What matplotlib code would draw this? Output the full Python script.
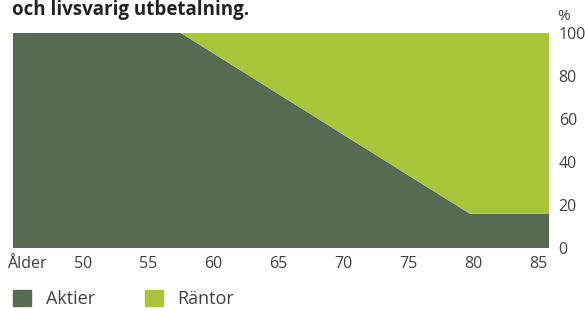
import matplotlib.pyplot as plt
from matplotlib.patches import Patch

plt.rcParams['font.family'] = ['Open Sans', 'DejaVu Sans']

# age and share of equities (rest is interest funds)
alder = [44.6, 57.5, 79.7, 85.8]
aktier = [100, 100, 16, 16]
rantor = [100 - a for a in aktier]
xticks = [50, 55, 60, 65, 70, 75, 80, 85]
yticks = [0, 20, 40, 60, 80, 100]

c_akt = '#566B52'
c_ran = '#A9C53A'
txt = '#404040'

fig = plt.figure(figsize=(5.85, 3.11), dpi=100)
ax = fig.add_axes([13/585, 63/311, 536/585, 215/311])

ax.stackplot(alder, aktier, rantor, colors=[c_akt, c_ran], linewidth=0)
ax.set_xlim(44.6, 85.8)
ax.set_ylim(0, 100)
for s in ax.spines.values():
    s.set_visible(False)

ax.set_xticks(xticks)
ax.set_xticklabels([str(t) for t in xticks])
ax.yaxis.tick_right()
ax.set_yticks(yticks)
ax.tick_params(length=0, labelsize=11.5, colors=txt)
ax.tick_params(axis='x', pad=6)
ax.tick_params(axis='y', pad=7)

fig.text(7/585, 1 - 264/311, 'Ålder', fontsize=11.5, color=txt, va='center', ha='left')
fig.text(557/585, 1 - 17/311, '%', fontsize=11, color=txt, va='center', ha='left')
fig.text(12/585, 1 - 14.5/311, 'och livsvarig utbetalning.', fontsize=13.5, fontweight='bold',
         color='#222222', va='baseline', ha='left')

handles = [Patch(color=c_akt, label='Aktier'), Patch(color=c_ran, label='Räntor')]
leg = fig.legend(handles=handles, loc='center left', bbox_to_anchor=(13/585, 1 - 299/311),
                 ncol=2, frameon=False, fontsize=13, handlelength=1.0, handleheight=1.05,
                 columnspacing=2.8, handletextpad=0.8, borderaxespad=0, borderpad=0)
for t in leg.get_texts():
    t.set_color(txt)

fig.savefig('out.png', dpi=100)
